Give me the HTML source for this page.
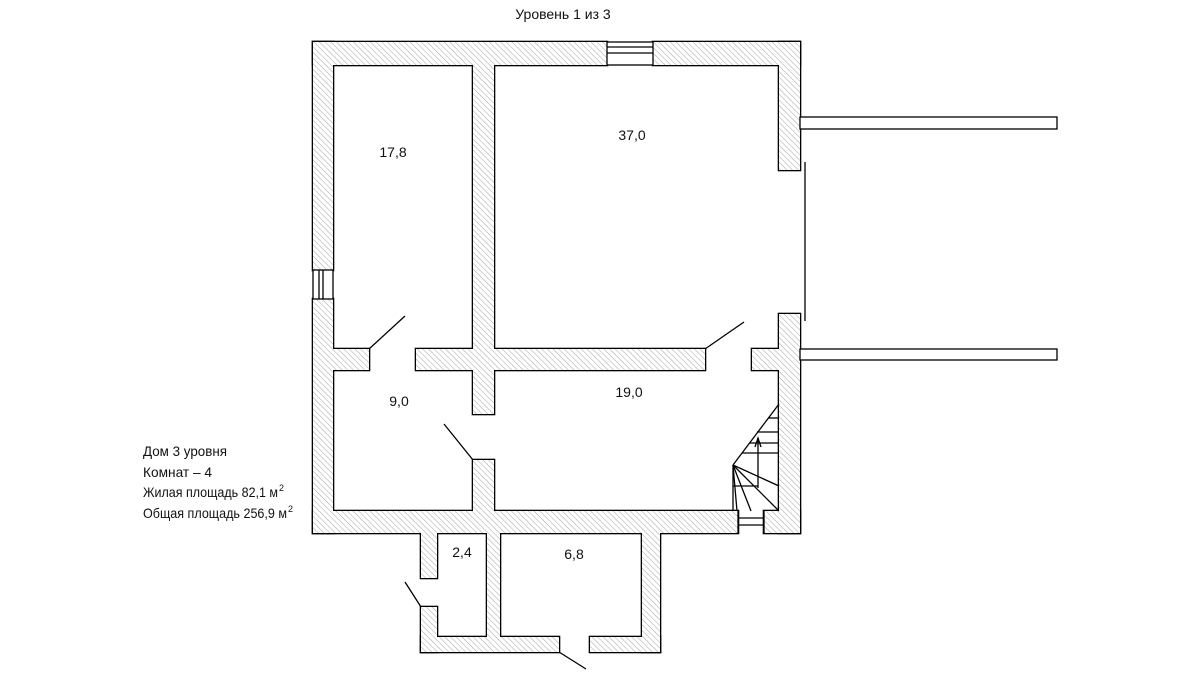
<!DOCTYPE html>
<html><head><meta charset="utf-8"><style>
html,body{margin:0;padding:0;background:#fff;}
svg{display:block;}
text{font-family:"Liberation Sans Narrow","Liberation Sans","DejaVu Sans",sans-serif;font-size:14px;fill:#111;}
</style></head><body>
<svg width="1200" height="675" viewBox="0 0 1200 675" xmlns="http://www.w3.org/2000/svg">
<defs>
<pattern id="h" patternUnits="userSpaceOnUse" width="4" height="4" patternTransform="rotate(-45)">
<rect width="4" height="4" fill="#fff"/>
<line x1="0" y1="0" x2="0" y2="4" stroke="#9a9a9a" stroke-width="0.9"/>
</pattern>
</defs>
<g id="walls">
<rect x="313" y="42" width="294" height="23"/>
<rect x="653" y="42" width="147" height="23"/>
<rect x="313" y="42" width="20" height="228"/>
<rect x="313" y="299" width="20" height="234"/>
<rect x="779" y="42" width="21" height="128"/>
<rect x="779" y="314" width="21" height="219"/>
<rect x="313" y="511" width="425" height="22"/>
<rect x="764" y="511" width="36" height="22"/>
<rect x="473" y="65" width="21" height="349"/>
<rect x="333" y="349" width="36" height="21"/>
<rect x="416" y="349" width="289" height="21"/>
<rect x="752" y="349" width="27" height="21"/>
<rect x="473" y="460" width="21" height="51"/>
<rect x="421" y="533" width="16" height="45"/>
<rect x="421" y="607" width="16" height="45"/>
<rect x="421" y="637" width="138" height="15"/>
<rect x="487" y="533" width="13" height="104"/>
<rect x="590" y="637" width="70" height="15"/>
<rect x="642" y="533" width="18" height="119"/>
</g>
<use href="#walls" fill="none" stroke="#000" stroke-width="2.6"/>
<use href="#walls" fill="url(#h)" stroke="none"/>
<g fill="none" stroke="#000" stroke-width="1.3">
<rect x="607" y="42" width="46" height="23" fill="#fff"/>
<line x1="607" y1="47" x2="653" y2="47"/><line x1="607" y1="53" x2="653" y2="53"/>
<rect x="313" y="270" width="20" height="29" fill="#fff"/>
<line x1="319" y1="270" x2="319" y2="299"/><line x1="323" y1="270" x2="323" y2="299"/>
<line x1="738" y1="511" x2="738" y2="533"/><line x1="764" y1="511" x2="764" y2="533"/>
<line x1="738" y1="518" x2="764" y2="518"/><line x1="738" y1="525" x2="764" y2="525"/>
<rect x="800" y="117" width="257" height="12" fill="#fff"/>
<rect x="800" y="349" width="257" height="11" fill="#fff"/>
<line x1="805" y1="162" x2="805" y2="321"/>
<line x1="369" y1="349" x2="405" y2="316"/>
<line x1="705" y1="349" x2="744" y2="322"/>
<line x1="473" y1="460" x2="444" y2="424"/>
<line x1="421" y1="607" x2="405" y2="582"/>
<line x1="559" y1="652" x2="586" y2="669"/>
<line x1="779" y1="404" x2="733" y2="465"/>
<line x1="733" y1="465" x2="733" y2="511"/>
<line x1="768" y1="418" x2="779" y2="418"/>
<line x1="757" y1="432" x2="779" y2="432"/>
<line x1="750" y1="443" x2="779" y2="443"/>
<line x1="742" y1="453" x2="779" y2="453"/>
<line x1="733" y1="465" x2="779" y2="486"/>
<line x1="733" y1="465" x2="779" y2="511"/>
<line x1="733" y1="465" x2="751" y2="511"/>
<line x1="733" y1="465" x2="737" y2="511"/>
<line x1="733" y1="486" x2="758" y2="486"/>
<line x1="758" y1="488" x2="758" y2="438"/>
<polyline points="755,447 758,438 761,447"/>
</g>
<text x="563" y="19" text-anchor="middle">Уровень 1 из 3</text>
<text x="393" y="157" text-anchor="middle">17,8</text>
<text x="632" y="140" text-anchor="middle">37,0</text>
<text x="399" y="406" text-anchor="middle">9,0</text>
<text x="629" y="397" text-anchor="middle">19,0</text>
<text x="462" y="557" text-anchor="middle">2,4</text>
<text x="574" y="559" text-anchor="middle">6,8</text>
<text x="143" y="456" textLength="84" lengthAdjust="spacingAndGlyphs">Дом 3 уровня</text>
<text x="143" y="477" textLength="69" lengthAdjust="spacingAndGlyphs">Комнат – 4</text>
<text x="143" y="497" textLength="135" lengthAdjust="spacingAndGlyphs">Жилая площадь 82,1 м</text>
<text x="279" y="491" style="font-size:9px">2</text>
<text x="143" y="518" textLength="144" lengthAdjust="spacingAndGlyphs">Общая площадь 256,9 м</text>
<text x="288" y="512" style="font-size:9px">2</text>
</svg>
</body></html>
